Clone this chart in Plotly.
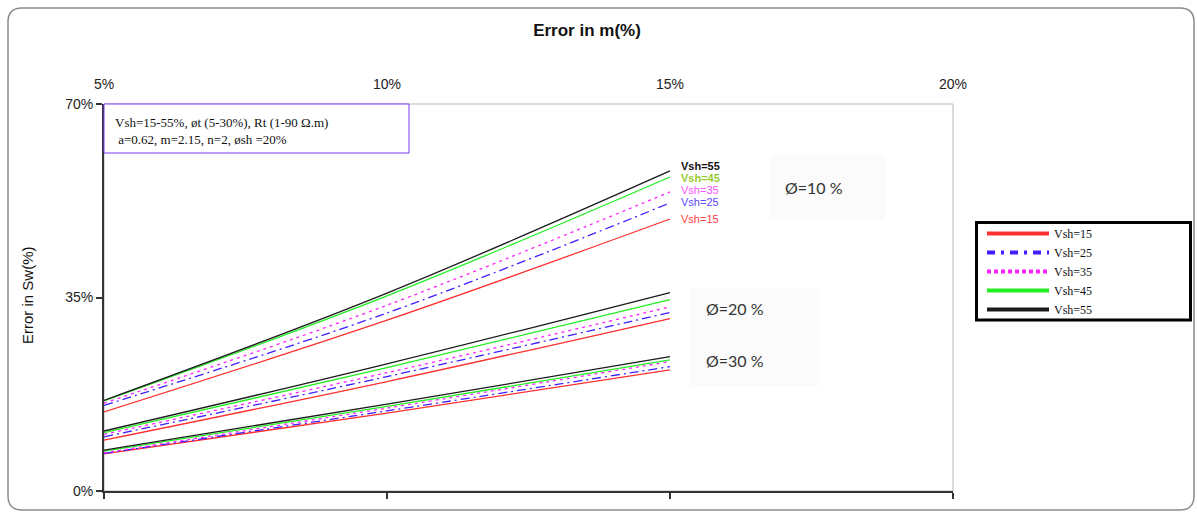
import plotly.graph_objects as go

# ---------------- data ----------------
error_m = [5, 10, 15]
vsh_values = [15, 25, 35, 45, 55]

phi10_vsh15 = [14.3, 30.9, 49.2]
phi10_vsh25 = [15.5, 32.2, 52.1]
phi10_vsh35 = [15.9, 33.6, 54.1]
phi10_vsh45 = [16.3, 35.3, 56.8]
phi10_vsh55 = [16.4, 35.8, 57.9]

phi20_vsh15 = [9.2, 19.8, 31.2]
phi20_vsh25 = [9.8, 20.7, 32.3]
phi20_vsh35 = [10.25, 21.4, 33.3]
phi20_vsh45 = [10.55, 22.3, 34.6]
phi20_vsh55 = [10.85, 23.0, 35.9]

phi30_vsh15 = [6.7, 14.1, 21.9]
phi30_vsh25 = [6.8, 14.5, 22.5]
phi30_vsh35 = [6.9, 15.0, 23.4]
phi30_vsh45 = [7.2, 15.3, 23.7]
phi30_vsh55 = [7.4, 15.7, 24.3]

x_ticks = [5, 10, 15, 20]
x_ticktext = ["5%", "10%", "15%", "20%"]
y_ticks = [0, 35, 70]
y_ticktext = ["0%", "35%", "70%"]

groups = [
    [phi10_vsh15, phi10_vsh25, phi10_vsh35, phi10_vsh45, phi10_vsh55],
    [phi20_vsh15, phi20_vsh25, phi20_vsh35, phi20_vsh45, phi20_vsh55],
    [phi30_vsh15, phi30_vsh25, phi30_vsh35, phi30_vsh45, phi30_vsh55],
]

colors = ["#ff3030", "#3f1fff", "#ff22ff", "#22ee22", "#1a1a1a"]
plot_dash = ["solid", "9px,4px,2px,4px", "3px,4px", "solid", "solid"]
legend_dash = ["solid", "8px,6px,3px,6px", "4px,3px", "solid", "solid"]
label_colors = ["#ff4040", "#5a4bff", "#ff55ff", "#99cc33", "#111111"]
label_bold = [False, False, False, True, True]
label_yshift = [0, 1, 2, -1, 5]

# ---------------- geometry helpers (pixel -> paper) ----------------
W, H = 1197, 513
L, R, T, B = 104, 953, 104, 491


def px(x):
    return (x - L) / (R - L)


def py(y):
    return (B - y) / (B - T)


fig = go.Figure()

for g in groups:
    for i, series in enumerate(g):
        fig.add_trace(go.Scatter(
            x=error_m, y=series, mode="lines",
            line=dict(color=colors[i], width=1.3, dash=plot_dash[i], shape="spline"),
            showlegend=False, hoverinfo="skip"))

for i, v in enumerate(vsh_values):
    fig.add_trace(go.Scatter(
        x=[None], y=[None], mode="lines", name=f"Vsh={v}",
        line=dict(color=colors[i], width=4, dash=legend_dash[i]),
        showlegend=True, xaxis="x2"))

annotations = []
# end labels for the Ø=10 % group
for i, v in enumerate(vsh_values):
    t = f"Vsh={v}"
    if label_bold[i]:
        t = f"<b>{t}</b>"
    annotations.append(dict(
        x=error_m[-1], y=groups[0][i][-1], xref="x", yref="y",
        text=t, showarrow=False, xanchor="left", yanchor="middle",
        xshift=9, yshift=label_yshift[i],
        font=dict(family="Liberation Sans, Arial", size=11, color=label_colors[i])))

# porosity labels
for txt, cx, cy in [("Ø=10 %", 814, 187), ("Ø=20 %", 735, 308), ("Ø=30 %", 735, 360)]:
    annotations.append(dict(
        x=px(cx), y=py(cy), xref="paper", yref="paper", text=txt, showarrow=False,
        xanchor="center", yanchor="middle",
        font=dict(family="Lato, Noto Sans", size=16, color="#333333")))

# info box text
annotations.append(dict(
    x=px(113), y=py(131), xref="paper", yref="paper",
    text="Vsh=15-55%, øt (5-30%), Rt (1-90 Ω.m)<br>&nbsp;a=0.62, m=2.15, n=2, øsh =20%",
    showarrow=False, xanchor="left", yanchor="middle", align="left",
    font=dict(family="Liberation Serif, Times New Roman", size=13, color="#111111")))

# y-axis title
annotations.append(dict(
    x=px(27), y=py(295), xref="paper", yref="paper", text="Error in Sw(%)",
    textangle=-90, showarrow=False, xanchor="center", yanchor="middle",
    font=dict(family="Liberation Sans, Arial", size=15, color="#111111")))

shapes = []
# outer rounded frame
x0, y0, x1, y1, r = 8, 8, 1194, 510, 14
path = (
    f"M {px(x0 + r)},{py(y0)} L {px(x1 - r)},{py(y0)} "
    f"Q {px(x1)},{py(y0)} {px(x1)},{py(y0 + r)} "
    f"L {px(x1)},{py(y1 - r)} Q {px(x1)},{py(y1)} {px(x1 - r)},{py(y1)} "
    f"L {px(x0 + r)},{py(y1)} Q {px(x0)},{py(y1)} {px(x0)},{py(y1 - r)} "
    f"L {px(x0)},{py(y0 + r)} Q {px(x0)},{py(y0)} {px(x0 + r)},{py(y0)} Z"
)
shapes.append(dict(type="path", path=path, xref="paper", yref="paper",
                   line=dict(color="#8a8a8a", width=1.5), layer="below"))
# plot-area top/right border
shapes.append(dict(type="rect", xref="paper", yref="paper", x0=0, x1=1, y0=0, y1=1,
                   line=dict(color="#b8b8b8", width=1), layer="below"))
# faint label backgrounds
shapes.append(dict(type="rect", xref="paper", yref="paper",
                   x0=px(770), x1=px(885), y0=py(220), y1=py(155),
                   fillcolor="#fbfbfb", line=dict(width=0), layer="below"))
shapes.append(dict(type="rect", xref="paper", yref="paper",
                   x0=px(690), x1=px(820), y0=py(386), y1=py(288),
                   fillcolor="#fbfbfb", line=dict(width=0), layer="below"))
# info box
shapes.append(dict(type="rect", xref="paper", yref="paper",
                   x0=px(104), x1=px(409), y0=py(153), y1=py(104),
                   line=dict(color="#7a3cff", width=1), fillcolor="white"))
# legend box
shapes.append(dict(type="rect", xref="paper", yref="paper",
                   x0=px(976.5), x1=px(1190.5), y0=py(320), y1=py(222.5),
                   line=dict(color="black", width=3), fillcolor="white", layer="below"))

fig.update_layout(
    width=W, height=H,
    margin=dict(l=L, r=W - R, t=T, b=H - B, autoexpand=False),
    paper_bgcolor="white", plot_bgcolor="white",
    font=dict(family="Liberation Sans, Arial", color="#222222"),
    title=dict(text="<b>Error in m(%)</b>", x=587 / W, y=1 - 30 / H,
               xanchor="center", yanchor="middle", xref="container", yref="container",
               font=dict(family="Liberation Sans, Arial", size=17, color="#111111")),
    xaxis=dict(range=[5, 20], tickvals=x_ticks, showticklabels=False,
               ticks="outside", ticklen=6, tickwidth=1.5, tickcolor="#333333",
               showline=True, linecolor="#333333", linewidth=2,
               showgrid=False, zeroline=False, fixedrange=True),
    xaxis2=dict(range=[5, 20], overlaying="x", side="top", tickvals=x_ticks,
                ticktext=x_ticktext, ticks="outside", ticklen=8,
                tickcolor="rgba(0,0,0,0)", showline=False, showgrid=False,
                zeroline=False, tickfont=dict(size=14, color="#222222")),
    yaxis=dict(range=[0, 70], tickvals=y_ticks, ticktext=y_ticktext,
               ticks="outside", ticklen=6, tickwidth=1.5, tickcolor="#333333",
               showline=True, linecolor="#333333", linewidth=2,
               showgrid=False, zeroline=False, tickfont=dict(size=14, color="#222222")),
    legend=dict(x=px(982), y=py(219), xanchor="left", yanchor="top",
                bgcolor="rgba(0,0,0,0)", borderwidth=0, itemwidth=62,
                tracegroupgap=0,
                font=dict(family="Liberation Serif, Times New Roman", size=12, color="#111111")),
    annotations=annotations,
    shapes=shapes,
)

fig.write_html("out.html")
